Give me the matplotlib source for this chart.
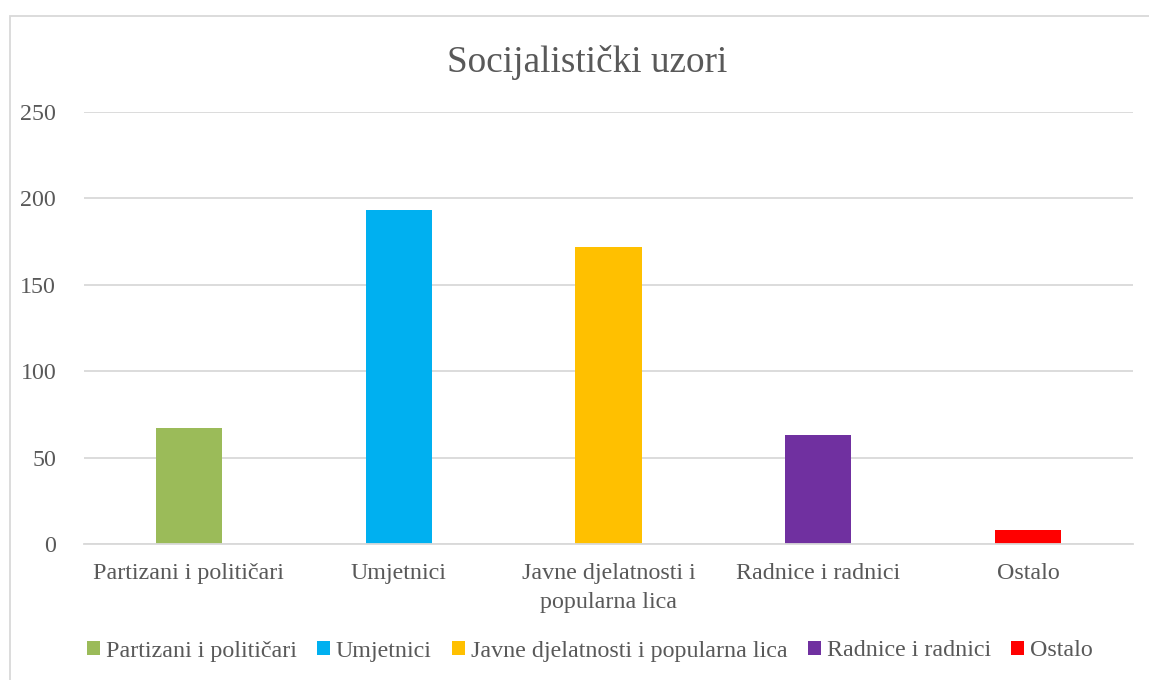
import matplotlib
matplotlib.use("Agg")
import matplotlib.pyplot as plt
from matplotlib.patches import Rectangle, Patch

# data
categories = ["Partizani i političari", "Umjetnici", "Javne djelatnosti i popularna lica",
              "Radnice i radnici", "Ostalo"]
tick_labels = ["Partizani i političari", "Umjetnici", "Javne djelatnosti i\npopularna lica",
               "Radnice i radnici", "Ostalo"]
values = [67, 193, 172, 63, 8]
colors = ["#9BBB59", "#00B0F0", "#FFC000", "#7030A0", "#FF0000"]

W, H = 1149, 680
TEXT = "#595959"
GRID = "#D9D9D9"

plt.rcParams['font.family'] = ['Liberation Serif', 'DejaVu Serif']

fig = plt.figure(figsize=(W / 100, H / 100), dpi=100)
fig.patch.set_facecolor("white")

# chart area border (cut off at the right and bottom in the reference)
fig.patches.append(Rectangle((10 / W, -0.05), 1.1, 1 - 16 / H + 0.05,
                             transform=fig.transFigure, fill=False,
                             edgecolor=GRID, linewidth=1.3))

ax = fig.add_axes([84 / W, 1 - 544 / H, (1133 - 84) / W, (544 - 111.7) / H])
x = range(len(values))
ax.bar(x, values, width=0.315, color=colors, zorder=3)

ax.set_xlim(-0.5, len(values) - 0.5)
ax.set_ylim(0, 250)
ax.set_yticks([0, 50, 100, 150, 200, 250])
ax.set_xticks(list(x))
ax.set_xticklabels(tick_labels, fontsize=17.3, color=TEXT, linespacing=1.45)
ax.tick_params(axis='y', labelsize=17.3, labelcolor=TEXT, length=0, pad=20)
ax.tick_params(axis='x', length=0, pad=14)
ax.grid(axis='y', color=GRID, linewidth=1.3, zorder=0)
for s in ["top", "right", "left"]:
    ax.spines[s].set_visible(False)
ax.spines["bottom"].set_color(GRID)
ax.spines["bottom"].set_linewidth(1.3)
ax.spines["bottom"].set_zorder(4)

fig.text(587 / W, 1 - 62 / H, "Socijalistički uzori", ha='center', va='center',
         fontsize=26.8, color=TEXT)

handles = [Patch(facecolor=c, edgecolor='none') for c in colors]
fig.legend(handles, categories, loc='center', bbox_to_anchor=(590 / W, 1 - 651 / H),
           ncol=5, frameon=False, fontsize=17.3, labelcolor=TEXT,
           handlelength=0.53, handleheight=0.53, handletextpad=0.25,
           columnspacing=0.85, borderpad=0)

fig.savefig("out.png", dpi=100)
